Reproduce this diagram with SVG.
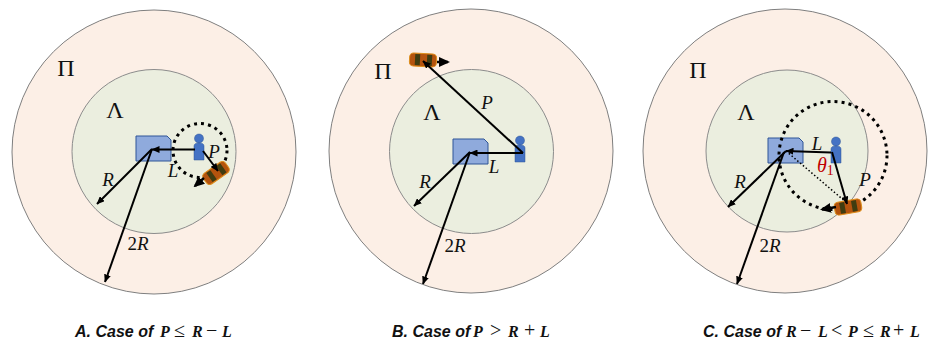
<svg xmlns="http://www.w3.org/2000/svg" width="932" height="345" viewBox="0 0 932 345">
<style>
.outer{fill:#fcefe6;stroke:#7f7f7f;stroke-width:1}
.inner{fill:#ebeedf;stroke:#8c8c8c;stroke-width:1}
.sim{fill:#8faadc;stroke:#2f5597;stroke-width:1}
.person{fill:#4472c4;stroke:#2f5597;stroke-width:.5}
.arrow{stroke:#000;stroke-width:2;fill:none;marker-end:url(#head)}
.carrow{stroke:#000;stroke-width:2.500;fill:none;marker-end:url(#bighead)}
.dots{fill:none;stroke:#000;stroke-width:3;stroke-dasharray:3 4.100}
.fine{fill:none;stroke:#000;stroke-width:1.500;stroke-dasharray:1.500 2.200}
.m{font-family:"Liberation Serif",serif;font-style:italic;font-size:19px;fill:#111}
.g{font-family:"Liberation Serif",serif;font-size:24px;fill:#111}
.cap{font-family:"Liberation Sans",Arial,sans-serif;font-style:italic;font-weight:bold;font-size:16px;fill:#111}
.cm{font-family:"Liberation Serif",serif;font-size:16px;font-weight:bold;font-style:italic}
.cn{font-family:"Liberation Serif",serif;font-size:20px;font-weight:normal;font-style:normal}
</style>
<defs>
<marker id="head" markerUnits="userSpaceOnUse" markerWidth="8" markerHeight="7" refX="7.500" refY="3.500" orient="auto"><path d="M0 0L8 3.500L0 7Z" fill="#000"/></marker>
<marker id="bighead" markerUnits="userSpaceOnUse" markerWidth="11" markerHeight="10" refX="9" refY="5" orient="auto"><path d="M0 0L11 5L0 10Z" fill="#000"/></marker>
<g id="simcard"><path class="sim" d="M0 0H31L35 4V25H0Z"/></g>
<g id="user"><circle class="person" cx="5" cy="4.500" r="4.500"/><path class="person" d="M0 12Q0 9 5 9Q10 9 10 12V26H0Z"/></g>
<g id="car"><rect x="-13.500" y="-6.500" width="27" height="13" rx="4" fill="#b4530e" stroke="#dd8f1c" stroke-width="1"/><rect x="-8" y="-5.500" width="5" height="11" fill="#403c10"/><rect x="4" y="-5.500" width="5" height="11" fill="#403c10"/></g>
</defs>

<g id="panel-a">
<g id="a-outer"><circle class="outer" cx="154" cy="152" r="142"/></g>
<g id="a-inner"><circle class="inner" cx="154" cy="151.500" r="82"/></g>
<g id="a-sim"><use href="#simcard" x="136" y="136"/></g>
<g id="a-person"><use href="#user" x="194" y="134"/></g>
<g id="a-range"><circle class="dots" cx="200" cy="150.500" r="27"/></g>
<g id="a-car"><use href="#car" transform="translate(216 173) rotate(-35)"/></g>
<g id="a-labels">
<text class="g" x="66" y="76" text-anchor="middle">Π</text>
<text class="g" x="115" y="118" text-anchor="middle">Λ</text>
<text class="m" x="108" y="186" text-anchor="middle">R</text>
<text class="m" x="173" y="177" text-anchor="middle">L</text>
<text class="m" x="214" y="158" text-anchor="middle">P</text>
<text class="m" x="138" y="250" text-anchor="middle"><tspan font-style="normal">2</tspan>R</text>
</g>
</g>

<g id="panel-b">
<g id="b-outer"><circle class="outer" cx="471" cy="151" r="142"/></g>
<g id="b-inner"><circle class="inner" cx="471.500" cy="151.500" r="82"/></g>
<g id="b-sim"><use href="#simcard" x="453" y="139"/></g>
<g id="b-person"><use href="#user" x="515" y="136"/></g>
<g id="b-car"><use href="#car" transform="translate(423 60) rotate(3)"/></g>
<g id="b-labels">
<text class="g" x="383" y="79" text-anchor="middle">Π</text>
<text class="g" x="432" y="120" text-anchor="middle">Λ</text>
<text class="m" x="487" y="109" text-anchor="middle">P</text>
<text class="m" x="494" y="173" text-anchor="middle">L</text>
<text class="m" x="425" y="188" text-anchor="middle">R</text>
<text class="m" x="455" y="252" text-anchor="middle"><tspan font-style="normal">2</tspan>R</text>
</g>
</g>

<g id="panel-c">
<g id="c-outer"><circle class="outer" cx="785" cy="151" r="142"/></g>
<g id="c-inner"><circle class="inner" cx="787" cy="151" r="81"/></g>
<g id="c-sim"><use href="#simcard" x="768" y="138"/></g>
<g id="c-person"><use href="#user" x="831" y="137"/></g>
<g id="c-range"><circle class="dots" cx="833" cy="155.500" r="54"/></g>
<g id="c-car"><use href="#car" transform="translate(848 207) rotate(-10)"/></g>
<g id="c-labels">
<text class="g" x="698" y="78" text-anchor="middle">Π</text>
<text class="g" x="746" y="120" text-anchor="middle">Λ</text>
<text class="m" x="817" y="150" text-anchor="middle">L</text>
<text class="m" x="865" y="186" text-anchor="middle">P</text>
<text class="m" x="740" y="188" text-anchor="middle">R</text>
<text class="m" x="770" y="252" text-anchor="middle"><tspan font-style="normal">2</tspan>R</text>
<text class="m" x="817" y="172" style="fill:#c00000;font-size:20px">θ<tspan font-size="14" font-style="normal" dy="3">1</tspan></text>
</g>
</g>

<g id="connectors">
<path class="arrow" d="M152 149L97 204"/>
<path class="arrow" d="M152 149L105 282"/>
<path class="arrow" d="M195 149.500H152"/>
<path class="arrow" d="M203 151L218 171"/>
<path class="carrow" d="M204 178L195 186"/>

<path class="arrow" d="M470 152L414 206"/>
<path class="arrow" d="M470 152L423 284"/>
<path class="arrow" d="M523 153H470"/>
<path class="arrow" d="M523 153L423 61"/>
<path class="carrow" d="M437 62H448"/>

<path class="arrow" d="M786 151L728 207"/>
<path class="arrow" d="M784 152L737 284"/>
<path class="arrow" d="M831 152.500L786 151"/>
<path class="arrow" d="M832 152L847 204"/>
<path class="fine" d="M786 151L847 203"/>
<path class="carrow" d="M836 207L822 209.500"/>
</g>

<g id="captions">
<text class="cap" y="337"><tspan x="75">A. Case of</tspan><tspan class="cm" x="160">P</tspan><tspan class="cn" x="174">≤</tspan><tspan class="cm" x="192">R</tspan><tspan class="cn" x="206">−</tspan><tspan class="cm" x="222">L</tspan></text>
<text class="cap" y="337"><tspan x="392">B. Case of</tspan><tspan class="cm" x="473">P</tspan><tspan class="cn" x="490">&gt;</tspan><tspan class="cm" x="508">R</tspan><tspan class="cn" x="524">+</tspan><tspan class="cm" x="540">L</tspan></text>
<text class="cap" y="337"><tspan x="703">C. Case of</tspan><tspan class="cm" x="786">R</tspan><tspan class="cn" x="800">−</tspan><tspan class="cm" x="818">L</tspan><tspan class="cn" x="831">&lt;</tspan><tspan class="cm" x="848">P</tspan><tspan class="cn" x="863">≤</tspan><tspan class="cm" x="880">R</tspan><tspan class="cn" x="893">+</tspan><tspan class="cm" x="910">L</tspan></text>
</g>
</svg>
